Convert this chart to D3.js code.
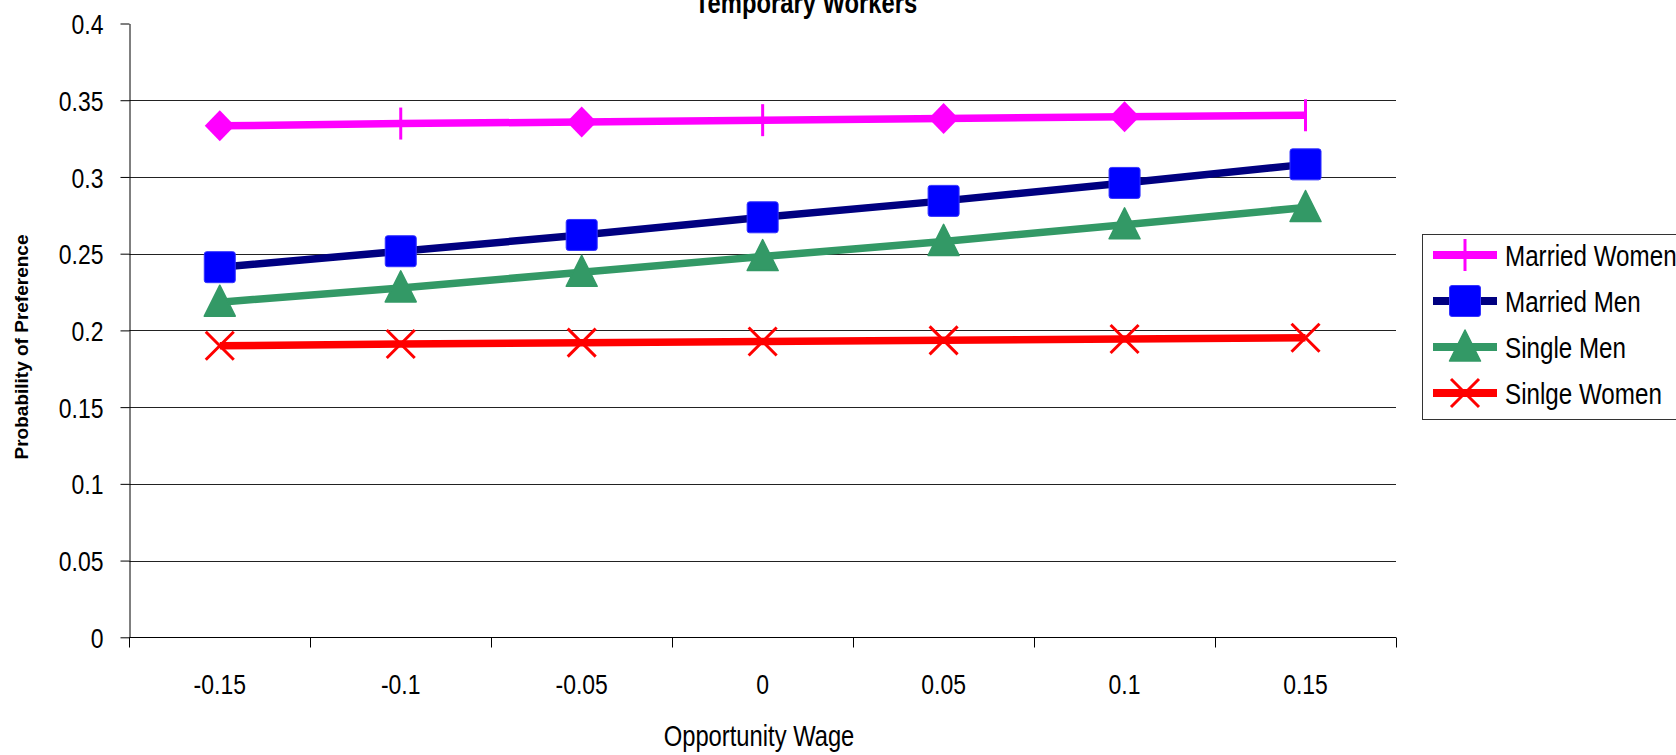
<!DOCTYPE html>
<html>
<head>
<meta charset="utf-8">
<script src="https://cdn.jsdelivr.net/npm/d3@7/dist/d3.min.js"></script>
<style>
  html, body { margin: 0; padding: 0; background: #fff; overflow: hidden; }
  svg { display: block; }
  .narrow { font-family: "Liberation Sans", Arial, sans-serif; }
</style>
</head>
<body>
<svg id="chart" width="1676" height="755"></svg>
<script>
// ---- data ----
const categories = ["-0.15", "-0.1", "-0.05", "0", "0.05", "0.1", "0.15"];
const marriedWomen = [0.3333, 0.3348, 0.3358, 0.3370, 0.3381, 0.3392, 0.3402];
const marriedMen   = [0.2412, 0.2516, 0.2622, 0.2737, 0.2844, 0.2961, 0.3082];
const singleMen    = [0.2184, 0.2277, 0.2379, 0.2481, 0.2580, 0.2688, 0.2801];
const singleWomen  = [0.1900, 0.1911, 0.1920, 0.1928, 0.1935, 0.1944, 0.1952];
const seriesNames  = ["Married Women", "Married Men", "Single Men", "Sinlge Women"];
const yTickValues  = [0, 0.05, 0.1, 0.15, 0.2, 0.25, 0.3, 0.35, 0.4];
const yTickLabels  = ["0", "0.05", "0.1", "0.15", "0.2", "0.25", "0.3", "0.35", "0.4"];
const chartTitle = "Temporary Workers";
const xTitle = "Opportunity Wage";
const yTitle = "Probability of Preference";

// ---- layout & styles ----
const pLeft = 129.3, pRight = 1396, pTop = 23.5, pBottom = 637.3;
const NARROW = 0.82; // horizontal compression to emulate a narrow face
const svg = d3.select("#chart");
const x = d3.scaleBand().domain(categories).range([pLeft, pRight]).padding(0);
const y = d3.scaleLinear().domain([0, 0.4]).range([pBottom, pTop]);
const cx = c => x(c) + x.bandwidth() / 2;

const styles = [
  { line: "#FF00FF", fill: "#FF00FF", marker: "mw" },
  { line: "#000080", fill: "#0000FF", marker: "square" },
  { line: "#339966", fill: "#339966", marker: "triangle" },
  { line: "#FF0000", fill: "#FF0000", marker: "x" }
];
// Married Women: diamond markers at these points, bar markers elsewhere
const diamondIdx = [0, 2, 4, 5];

function narrowText(parent, tx, ty, str, size, anchor, weight) {
  const g = parent.append("g").attr("transform", `translate(${tx},${ty})`);
  return g.append("text").attr("class", "narrow").attr("transform", `scale(${NARROW},1)`)
    .attr("text-anchor", anchor || "start").attr("font-size", size)
    .attr("font-weight", weight || "normal").attr("fill", "#000").text(str);
}

// gridlines
svg.append("g").selectAll("line")
  .data(yTickValues.filter(v => v > 0 && v < 0.4))
  .join("line")
  .attr("x1", pLeft).attr("x2", pRight)
  .attr("y1", d => Math.round(y(d)) + 0.5).attr("y2", d => Math.round(y(d)) + 0.5)
  .attr("stroke", "#222").attr("stroke-width", 1);

// y axis
const yAxis = d3.axisLeft(y).tickValues(yTickValues)
  .tickFormat((d, i) => yTickLabels[i]).tickSize(9).tickSizeOuter(0).tickPadding(17);
const gy = svg.append("g").attr("transform", `translate(${Math.round(pLeft) + 0.5},0)`).call(yAxis);
gy.selectAll("path, line").attr("stroke", "#000").attr("stroke-width", 1);
gy.selectAll("text").attr("class", "narrow").attr("font-size", 28).attr("fill", "#000")
  .attr("dy", "0.36em").attr("x", -26 / NARROW).attr("transform", `scale(${NARROW},1)`);

// x axis
const gx = svg.append("g").attr("transform", `translate(0,${Math.round(pBottom) + 0.5})`)
  .call(d3.axisBottom(x).tickSize(0).tickSizeOuter(0).tickPadding(36));
gx.selectAll("path").attr("stroke", "#000").attr("d", `M${pLeft},0H${pRight}`);
gx.selectAll("text").attr("class", "narrow").attr("font-size", 28).attr("fill", "#000")
  .attr("dy", "0.72em").attr("transform", `scale(${NARROW},1)`);
// category boundary ticks
const bounds = d3.range(categories.length + 1).map(i => pLeft + i * x.step());
gx.append("g").selectAll("line").data(bounds).join("line")
  .attr("x1", d => Math.round(d) + 0.5).attr("x2", d => Math.round(d) + 0.5)
  .attr("y1", 0).attr("y2", 10).attr("stroke", "#000");

// titles
narrowText(svg, 806, 12.5, chartTitle, 29, "middle", "bold");
narrowText(svg, 759, 746, xTitle, 29, "middle");
svg.append("text").attr("transform", "translate(28,347) rotate(-90)")
  .attr("text-anchor", "middle").attr("font-family", "'Liberation Sans', Arial, sans-serif")
  .attr("font-size", 19).attr("font-weight", "bold").text(yTitle);

// marker drawing
function drawMarker(g, type, px, py, st, idx) {
  if (type === "mw") {
    if (idx !== undefined && diamondIdx.includes(idx)) type = "diamond"; else type = "bar";
  }
  if (type === "diamond") {
    g.append("path").attr("d", `M${px},${py - 15.5}L${px + 15},${py}L${px},${py + 15.5}L${px - 15},${py}Z`)
      .attr("fill", st.fill);
  } else if (type === "bar") {
    g.append("line").attr("x1", px).attr("x2", px).attr("y1", py - 16).attr("y2", py + 16)
      .attr("stroke", st.fill).attr("stroke-width", 3);
  } else if (type === "square") {
    g.append("rect").attr("x", px - 15.5).attr("y", py - 15.5).attr("width", 31).attr("height", 31)
      .attr("rx", 2.5).attr("fill", st.fill).attr("stroke", "#3333ff").attr("stroke-width", 1);
  } else if (type === "triangle") {
    g.append("path").attr("d", `M${px},${py - 17}L${px + 15.5},${py + 14}L${px - 15.5},${py + 14}Z`)
      .attr("fill", st.fill).attr("stroke", st.fill).attr("stroke-width", 1.5).attr("stroke-linejoin", "round");
  } else if (type === "x") {
    g.append("path").attr("d", `M${px - 14},${py - 14}L${px + 14},${py + 14}M${px - 14},${py + 14}L${px + 14},${py - 14}`)
      .attr("stroke", st.fill).attr("stroke-width", 3).attr("fill", "none");
  }
}

// series
const allSeries = [marriedWomen, marriedMen, singleMen, singleWomen];
const line = d3.line().x((d, i) => cx(categories[i])).y(d => y(d));
allSeries.forEach((vals, s) => {
  const st = styles[s];
  const g = svg.append("g");
  g.append("path").attr("d", line(vals)).attr("fill", "none")
    .attr("stroke", st.line).attr("stroke-width", 7.5).attr("stroke-linejoin", "round");
  vals.forEach((v, i) => drawMarker(g, st.marker, cx(categories[i]), y(v), st, i));
});

// legend
const lg = svg.append("g");
lg.append("rect").attr("x", 1422.5).attr("y", 234.5).attr("width", 300).attr("height", 185)
  .attr("fill", "#fff").attr("stroke", "#333").attr("stroke-width", 1);
seriesNames.forEach((name, s) => {
  const st = styles[s];
  const ly = 255 + s * 46;
  lg.append("line").attr("x1", 1433).attr("x2", 1497).attr("y1", ly).attr("y2", ly)
    .attr("stroke", st.line).attr("stroke-width", 8);
  drawMarker(lg, st.marker, 1465, ly, st);
  narrowText(lg, 1505, ly, name, 29.5, "start").attr("dy", "0.36em");
});
</script>
</body>
</html>
